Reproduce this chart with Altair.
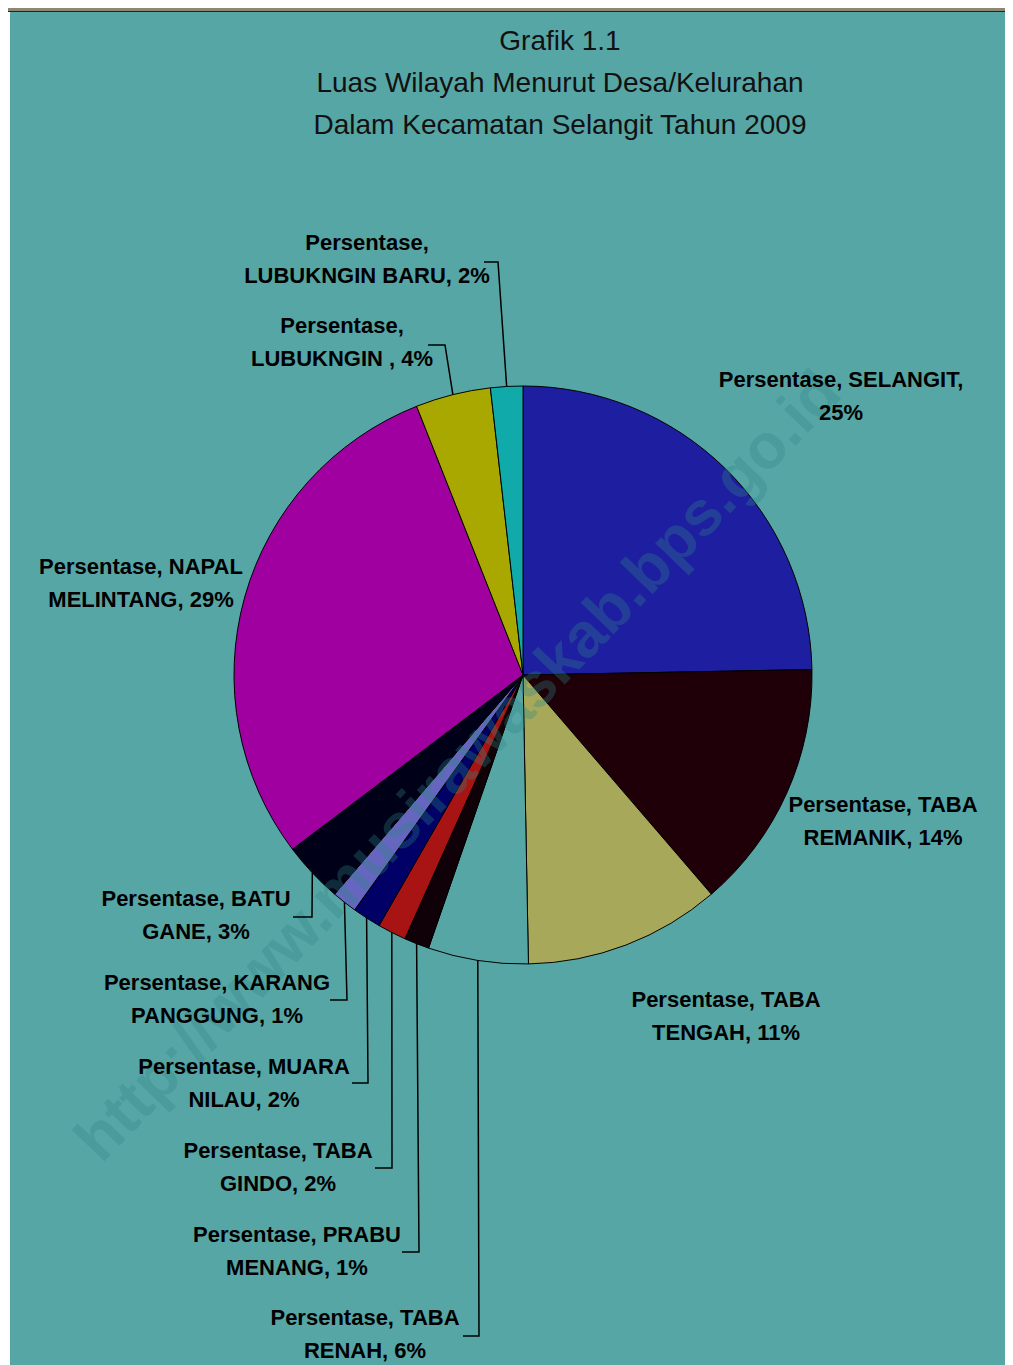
import math
import altair as alt
import pandas as pd

# ---------------- data ----------------
names = ["SELANGIT", "TABA REMANIK", "TABA TENGAH", "TABA RENAH", "PRABU MENANG",
         "TABA GINDO", "MUARA NILAU", "KARANG PANGGUNG", "BATU GANE",
         "NAPAL MELINTANG", "LUBUKNGIN ", "LUBUKNGIN BARU"]
values = [24.7, 14.0, 11.0, 5.6, 1.4, 1.6, 1.6, 1.4, 3.4, 29.3, 4.2, 1.8]
colors = ["#1E1EA0", "#200008", "#A8A85A", "#57A6A6", "#100008", "#A81414",
          "#000066", "#6666C0", "#000018", "#A000A0", "#A8A800", "#10AAAA"]
title_lines = ["Grafik 1.1", "Luas Wilayah Menurut Desa/Kelurahan",
               "Dalam Kecamatan Selangit Tahun 2009"]
watermark = "http://www.musirawaskab.bps.go.id"

# ---------------- layout (chart pixel space = page - 8) ----------------
W, H = 997, 1357
CX, CY, R = 515, 667, 289
BG = "#57A6A6"
first_words = [2, 2, 2, 2, 2, 2, 2, 2, 2, 2, 1, 1]
# (center x, center y of first line)
label_pos = [(833, 372), (875, 797), (718, 992), (357, 1310), (289, 1227),
             (270, 1143), (236, 1059), (209, 975), (188, 891), (133, 559),
             (334, 318), (359, 235)]
leaders = [None, None, None, ((471, 1328), (455, 1328)), ((411, 1244), (394, 1244)),
           ((384, 1160), (367, 1160)), ((360, 1075), (344, 1075)), ((339, 992), (322, 992)),
           ((304, 909), (285, 909)), None, ((437, 337), (420, 337)), ((490, 254), (476, 254))]

total = sum(values)
pcts = [round(v / total * 100) for v in values]

df = pd.DataFrame({"name": names, "value": values, "idx": list(range(len(names)))})

labels = []
for i, n in enumerate(names):
    full = f"Persentase, {n}, {pcts[i]}%"
    words = full.split(" ")
    l1 = " ".join(words[:first_words[i]])
    l2 = " ".join(words[first_words[i]:])
    labels.append({"name": n, "text": l1 + "\n" + l2, "x": label_pos[i][0], "y": label_pos[i][1]})
lab_df = pd.DataFrame(labels)

rows = []
cum = 0.0
for i, v in enumerate(values):
    mid = (cum + v / 2) / total * 2 * math.pi
    cum += v
    if leaders[i] is None:
        continue
    sx = CX + R * math.sin(mid)
    sy = CY - R * math.cos(mid)
    pts = [(sx, sy), leaders[i][0], leaders[i][1]]
    for k, (px, py) in enumerate(pts):
        rows.append({"name": names[i], "k": k, "x": px, "y": py})
lead_df = pd.DataFrame(rows)

title_df = pd.DataFrame({"t": title_lines, "y": [34 + 42 * i for i in range(len(title_lines))]})

# ---------------- marks ----------------
base_rect = alt.Chart(pd.DataFrame({"a": [0]}))
top_band = base_rect.mark_rect(color="#8E8672").encode(
    x=alt.value(0), x2=alt.value(W), y=alt.value(0), y2=alt.value(3))
top_line = base_rect.mark_rect(color="#222222").encode(
    x=alt.value(0), x2=alt.value(W), y=alt.value(3), y2=alt.value(4))
panel = base_rect.mark_rect(color=BG).encode(
    x=alt.value(2), x2=alt.value(W), y=alt.value(4), y2=alt.value(H))

pie = alt.Chart(df).mark_arc(radius=R, stroke="#000000", strokeWidth=1).encode(
    theta=alt.Theta("value:Q", stack=True),
    order=alt.Order("idx:Q"),
    color=alt.Color("name:N", scale=alt.Scale(domain=names, range=colors), legend=None),
    x=alt.value(CX), y=alt.value(CY),
)

wm = alt.Chart(pd.DataFrame({"t": [watermark]})).mark_text(
    font="Liberation Sans", fontWeight="bold", fontSize=63, angle=314,
    color="#2F8585", opacity=0.32, align="center", baseline="middle"
).encode(text="t:N", x=alt.value(451), y=alt.value(759))

title = alt.Chart(title_df).mark_text(
    font="Liberation Sans", fontSize=28, color="#111111", align="center", baseline="middle"
).encode(text="t:N", x=alt.value(552), y=alt.Y("y:Q", scale=None))

lead = alt.Chart(lead_df).mark_line(color="#000000", strokeWidth=1.5).encode(
    x=alt.X("x:Q", scale=None), y=alt.Y("y:Q", scale=None),
    detail="name:N", order="k:Q")

lab = alt.Chart(lab_df).mark_text(
    font="Liberation Sans", fontWeight="bold", fontSize=22, color="#000000",
    align="center", baseline="middle", lineBreak="\n", lineHeight=33
).encode(text="text:N", x=alt.X("x:Q", scale=None), y=alt.Y("y:Q", scale=None))

chart = alt.layer(top_band, top_line, panel, pie, wm, title, lead, lab).properties(
    width=W, height=H, padding=0, autosize=alt.AutoSizeParams(type="none"),
    background="#FFFFFF"
).configure_view(strokeWidth=0)

chart.save("out.html", embed_options={"renderer": "svg", "actions": False})
